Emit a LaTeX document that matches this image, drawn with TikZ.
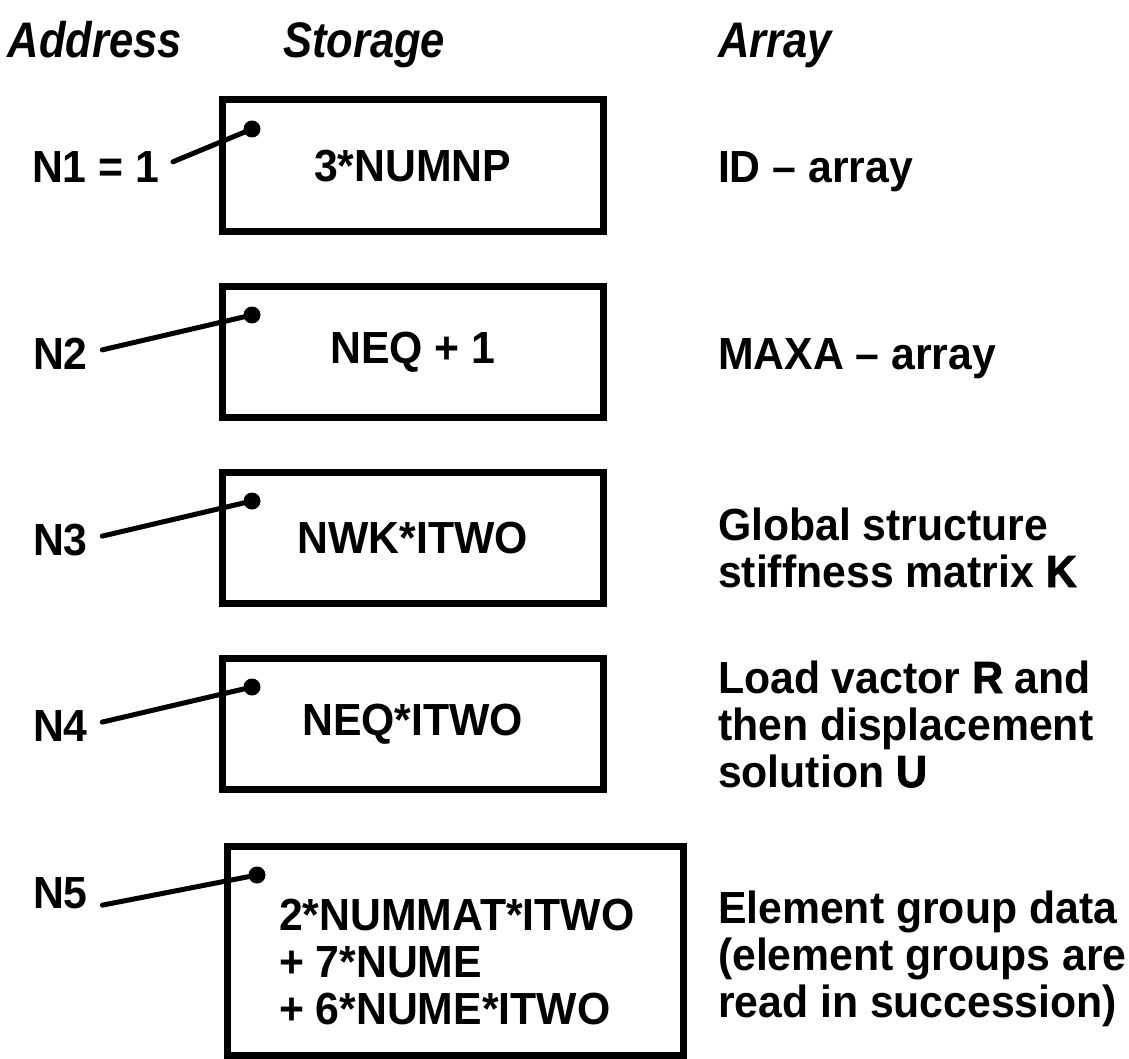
\documentclass[tikz,border=0pt]{standalone}
\usepackage{fontspec}
\newfontfamily\bodyfont[FakeStretch=0.95]{Liberation Sans Bold}
\newfontfamily\heavyfont[FakeStretch=0.95, FakeBold=2]{Liberation Sans Bold}
\newfontfamily\headfont[FakeStretch=0.87]{Liberation Sans Bold Italic}
\newcommand{\hv}[1]{{\heavyfont #1}}
\begin{document}
\begin{tikzpicture}[x=1pt,y=-1pt,
  every node/.style={inner sep=0pt, outer sep=0pt},
  txt/.style={font=\bodyfont\fontsize{45}{47}\selectfont},
  hdr/.style={font=\headfont\fontsize{50}{52}\selectfont, anchor=base west},
  box/.style={draw, line width=7pt, minimum width=381.5pt, minimum height=131.5pt},
  dotmark/.style={circle, fill, minimum size=17pt},
  lead/.style={line width=5pt, line cap=round, shorten <=15pt}]
\useasboundingbox (0,0) rectangle (1129,1059);
% headers
\node[hdr] (hAddr) at (8,58) {Address};
\node[hdr] (hStor) at (283,58) {Storage};
\node[hdr] (hArr) at (718,58) {Array};
% boxes
\node[box, txt] (b1) at (412.75,165.75) {3*NUMNP};
\node[box, txt] (b2) at (412.75,351.75) {NEQ + 1};
\node[box, txt] (b3) at (412.75,537.75) {NWK*ITWO};
\node[box, txt] (b4) at (412.75,723.75) {NEQ*ITWO};
\node[box, minimum width=456.5pt, minimum height=209pt] (b5) at (455.25,950.5) {};
\node[txt, align=left, anchor=base west] (t5) at (279,1024) {2*NUMMAT*ITWO\\+ 7*NUME\\+ 6*NUME*ITWO};
% dots
\node[dotmark] (d1) at (252,129) {};
\node[dotmark] (d2) at (252,315) {};
\node[dotmark] (d3) at (252,501) {};
\node[dotmark] (d4) at (252,687) {};
\node[dotmark] (d5) at (257,875) {};
% address labels
\node[txt, anchor=base west] (a1) at (32,183) {N1 = 1};
\node[txt, anchor=base west] (a2) at (33,369) {N2};
\node[txt, anchor=base west] (a3) at (33,555) {N3};
\node[txt, anchor=base west] (a4) at (33,741) {N4};
\node[txt, anchor=base west] (a5) at (33,908) {N5};
% leaders
\draw[lead] (a1.east) -- (d1.center);
\draw[lead] (a2.east) -- (d2.center);
\draw[lead] (a3.east) -- (d3.center);
\draw[lead] (a4.east) -- (d4.center);
\draw[lead] (a5.base east) -- (d5.center);
% array descriptions
\node[txt, anchor=base west] (r1) at (718,183) {ID – array};
\node[txt, anchor=base west] (r2) at (718,369) {MAXA – array};
\node[txt, anchor=base west, align=left] (r3) at (718,587) {Global structure\\stiffness matrix \hv{K}};
\node[txt, anchor=base west, align=left] (r4) at (718,787) {Load vactor \hv{R} and\\then displacement\\solution \hv{U}};
\node[txt, anchor=base west, align=left] (r5) at (718,1017) {Element group data\\(element groups are\\read in succession)};
\end{tikzpicture}
\end{document}
